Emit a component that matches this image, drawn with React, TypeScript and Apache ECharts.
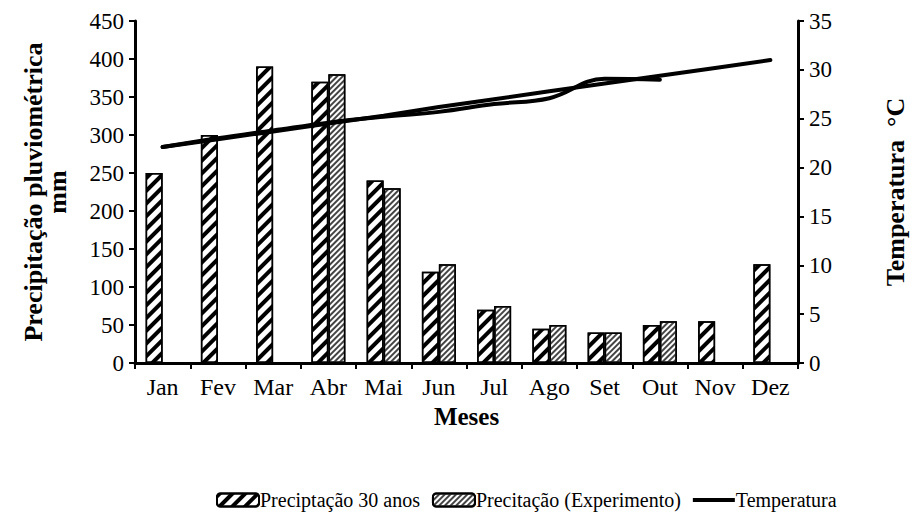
import React, { useEffect, useRef } from "react";
import * as echarts from "echarts";

const months = ["Jan", "Fev", "Mar", "Abr", "Mai", "Jun", "Jul", "Ago", "Set", "Out", "Nov", "Dez"];
const precip30 = [250, 300, 390, 370, 240, 120, 70, 45, 40, 50, 55, 130];
const precipExp = [null, null, null, 380, 230, 130, 75, 50, 40, 55, null, null];
const tempTrend = [22.1, 22.9, 23.7, 24.5, 25.3, 26.2, 27.0, 27.8, 28.6, 29.4, 30.2, 31.0];
const tempObserved = [22.1, 23.0, 23.8, 24.6, 25.2, 25.7, 26.5, 27.1, 29.1, 29.0, null, null];

const FONT = "Liberation Serif";

export default function App() {
  const ref = useRef<HTMLDivElement>(null);
  useEffect(() => {
    const chart = echarts.init(ref.current!, undefined, { renderer: "svg" });
    chart.setOption({
      animation: false,
      textStyle: { fontFamily: FONT, color: "#000" },
      grid: { left: 127, right: 98, top: 13, bottom: 149, containLabel: false },
      legend: {
        top: 477,
        left: 203,
        itemWidth: 42,
        itemHeight: 13,
        itemGap: 12,
        textStyle: { fontFamily: FONT, fontSize: 20, color: "#000", padding: [0, 0, 0, -4] },
        data: [
          { name: "Preciptação 30 anos" },
          { name: "Precitação (Experimento)" },
          { name: "Temperatura", icon: "path://M0,0 L40,0 L40,4 L0,4 Z" },
        ],
      },
      xAxis: {
        type: "category",
        data: months,
        name: "Meses",
        nameLocation: "middle",
        nameGap: 30,
        nameTextStyle: { fontFamily: FONT, fontSize: 25, fontWeight: "bold", color: "#000" },
        axisLine: { lineStyle: { color: "#000", width: 3 } },
        axisTick: { show: true, length: 6, lineStyle: { color: "#000", width: 2 } },
        axisLabel: { fontFamily: FONT, fontSize: 24, color: "#000", margin: 12 },
      },
      yAxis: [
        {
          type: "value",
          min: 0,
          max: 450,
          interval: 50,
          name: "Precipitação pluviométrica\nmm",
          nameLocation: "middle",
          nameGap: 66,
          nameRotate: 90,
          nameTextStyle: { fontFamily: FONT, fontSize: 26, fontWeight: "bold", color: "#000", lineHeight: 24 },
          axisLine: { show: true, lineStyle: { color: "#000", width: 3 } },
          axisTick: { show: true, length: 6, lineStyle: { color: "#000", width: 2 } },
          axisLabel: { fontFamily: FONT, fontSize: 23, color: "#000", margin: 11 },
          splitLine: { show: false },
        },
        {
          type: "value",
          min: 0,
          max: 35,
          interval: 5,
          position: "right",
          name: "Temperatura  °C",
          nameLocation: "middle",
          nameGap: 84,
          nameRotate: 90,
          nameTextStyle: { fontFamily: FONT, fontSize: 26, fontWeight: "bold", color: "#000" },
          axisLine: { show: true, lineStyle: { color: "#000", width: 3 } },
          axisTick: { show: true, length: 6, lineStyle: { color: "#000", width: 2 } },
          axisLabel: { fontFamily: FONT, fontSize: 23, color: "#000", margin: 11 },
          splitLine: { show: false },
        },
      ],
      series: [
        {
          name: "Preciptação 30 anos",
          type: "bar",
          data: precip30,
          barWidth: 17,
          barGap: "0%",
          itemStyle: {
            color: "#fff",
            borderColor: "#000",
            borderWidth: 1.5,
            decal: {
              symbol: "rect",
              symbolSize: 1,
              color: "#000",
              dashArrayX: [1, 0],
              dashArrayY: [4, 5],
              rotation: -Math.PI / 4,
            },
          },
        },
        {
          name: "Precitação (Experimento)",
          type: "bar",
          data: precipExp,
          barWidth: 17,
          barGap: "0%",
          itemStyle: {
            color: "#fff",
            borderColor: "#000",
            borderWidth: 1.5,
            decal: {
              symbol: "rect",
              symbolSize: 1,
              color: "#444",
              dashArrayX: [1, 0],
              dashArrayY: [1.5, 2],
              rotation: -Math.PI / 4,
            },
          },
        },
        {
          name: "Temperatura",
          type: "line",
          yAxisIndex: 1,
          data: tempTrend,
          symbol: "none",
          lineStyle: { color: "#000", width: 4, cap: "round" },
          itemStyle: { color: "#000" },
          z: 5,
        },
        {
          name: "Temperatura",
          type: "line",
          yAxisIndex: 1,
          data: tempObserved,
          symbol: "none",
          smooth: 0.4,
          lineStyle: { color: "#000", width: 4, cap: "round" },
          itemStyle: { color: "#000" },
          z: 5,
        },
      ],
    });
    return () => chart.dispose();
  }, []);
  return <div ref={ref} style={{ width: 908, height: 504 }} />;
}
